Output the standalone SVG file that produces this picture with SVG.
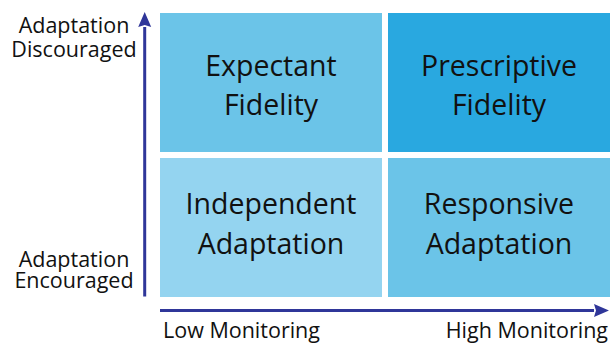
<svg xmlns="http://www.w3.org/2000/svg" width="613" height="343" viewBox="0 0 613 343">
<defs>
<style>
.big{font-family:"Open Sans","Liberation Sans",sans-serif;font-size:28.5px;fill:#111;text-anchor:middle}
.lab{font-family:"Open Sans","Liberation Sans",sans-serif;font-size:21.5px;fill:#111}
.axis{stroke:#2F3699;stroke-width:3;fill:none}
</style>
<marker id="ah" markerUnits="userSpaceOnUse" markerWidth="16" markerHeight="14" refX="0" refY="6.5" orient="auto" viewBox="0 0 16 13">
<path d="M0,0 L15,6.5 L0,13 L2,6.5 z" fill="#2F3699"/>
</marker>
</defs>
<rect width="613" height="343" fill="#fff"/>
<g id="expectant-fidelity">
<rect x="160" y="13" width="222" height="139" fill="#6BC4E8"/>
<text class="big" x="271" y="76">Expectant</text>
<text class="big" x="271" y="115">Fidelity</text>
</g>
<g id="prescriptive-fidelity">
<rect x="388" y="13" width="222" height="139" fill="#29A8E0"/>
<text class="big" x="499" y="76">Prescriptive</text>
<text class="big" x="499" y="115">Fidelity</text>
</g>
<g id="independent-adaptation">
<rect x="160" y="158" width="222" height="139" fill="#94D4F0"/>
<text class="big" x="271" y="214">Independent</text>
<text class="big" x="271" y="254">Adaptation</text>
</g>
<g id="responsive-adaptation">
<rect x="388" y="158" width="222" height="139" fill="#6BC4E8"/>
<text class="big" x="499" y="214">Responsive</text>
<text class="big" x="499" y="254">Adaptation</text>
</g>
<g id="connectors">
<line class="axis" x1="144.7" y1="296.5" x2="144.7" y2="27" marker-end="url(#ah)"/>
<line class="axis" x1="160" y1="310.5" x2="594" y2="310.5" marker-end="url(#ah)"/>
</g>
<g id="axis-labels">
<text class="lab" x="74" y="33" text-anchor="middle">Adaptation</text>
<text class="lab" x="74" y="57" text-anchor="middle">Discouraged</text>
<text class="lab" x="74" y="267" text-anchor="middle">Adaptation</text>
<text class="lab" x="74" y="288" text-anchor="middle">Encouraged</text>
<text class="lab" x="163" y="338">Low Monitoring</text>
<text class="lab" x="608" y="338" text-anchor="end">High Monitoring</text>
</g>
</svg>
